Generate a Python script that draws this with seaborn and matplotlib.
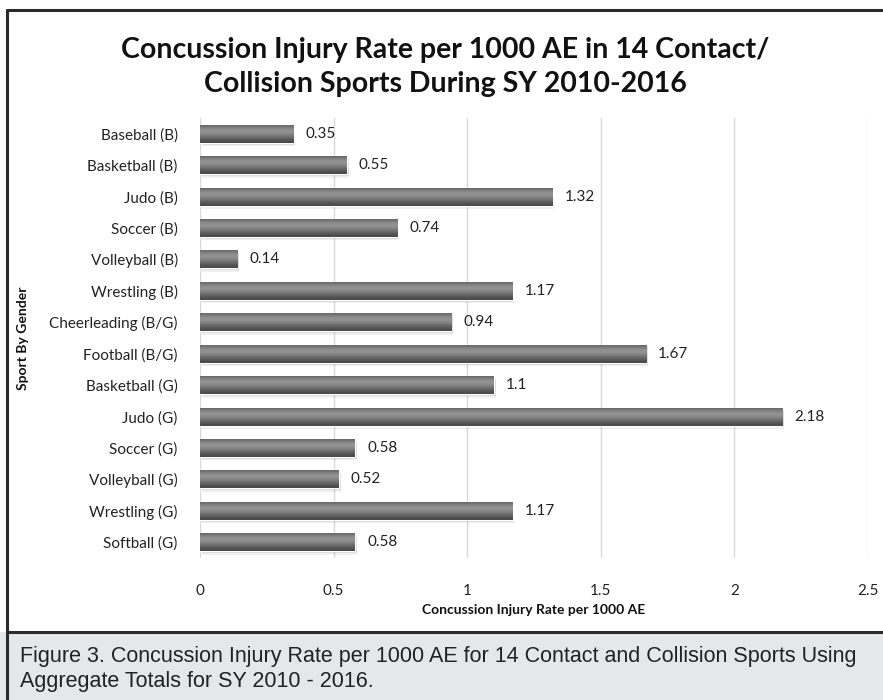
import numpy as np
import pandas as pd
import matplotlib
matplotlib.use("Agg")
import matplotlib.pyplot as plt
import seaborn as sns
from matplotlib.patches import Rectangle

sports = ["Baseball (B)", "Basketball (B)", "Judo (B)", "Soccer (B)", "Volleyball (B)",
          "Wrestling (B)", "Cheerleading (B/G)", "Football (B/G)", "Basketball (G)",
          "Judo (G)", "Soccer (G)", "Volleyball (G)", "Wrestling (G)", "Softball (G)"]
rates = [0.35, 0.55, 1.32, 0.74, 0.14, 1.17, 0.94, 1.67, 1.1, 2.18, 0.58, 0.52, 1.17, 0.58]
x_ticks = [0, 0.5, 1, 1.5, 2, 2.5]
x_tick_labels = ["0", "0.5", "1", "1.5", "2", "2.5"]

title = "Concussion Injury Rate per 1000 AE in 14 Contact/\nCollision Sports During SY 2010-2016"
xlabel = "Concussion Injury Rate per 1000 AE"
ylabel = "Sport By Gender"
caption = ("Figure 3. Concussion Injury Rate per 1000 AE for 14 Contact and Collision Sports Using\n"
           "Aggregate Totals for SY 2010 - 2016.")

sns.set_theme(style="white")
plt.rcParams['font.family'] = ['Lato', 'DejaVu Sans']

W, H = 883, 700
fig = plt.figure(figsize=(W / 100, H / 100), dpi=100)
fig.patch.set_facecolor("white")

# caption background
fig.patches.append(Rectangle((0, 0), 1, 1 - 632 / H, transform=fig.transFigure,
                             facecolor="#e6e7e8", edgecolor="none", zorder=0))
# border lines
fig.add_artist(plt.Line2D([7 / W, 7 / W], [0, 1 - 10 / H], transform=fig.transFigure,
                          color="#2b2b2b", lw=2.2))
fig.add_artist(plt.Line2D([7 / W, 1], [1 - 10 / H, 1 - 10 / H], transform=fig.transFigure,
                          color="#2b2b2b", lw=2.2))
fig.add_artist(plt.Line2D([7 / W, 1], [1 - 632 / H, 1 - 632 / H], transform=fig.transFigure,
                          color="#2b2b2b", lw=2.2))

left, right, top, bottom = 200, 868, 118, 558
ax = fig.add_axes([left / W, 1 - bottom / H, (right - left) / W, (bottom - top) / H])

df = pd.DataFrame({"sport": sports, "rate": rates})
sns.barplot(data=df, x="rate", y="sport", orient="h", color="#636363", width=0.57,
            ax=ax, zorder=3)

ax.set_xlim(0, 2.5)
ax.set_ylim(len(sports) - 0.5, -0.5)
ax.set_xticks(x_ticks)
ax.set_xticklabels(x_tick_labels, fontsize=11, color="#222222")
ax.tick_params(axis="x", length=0, pad=19)
ax.tick_params(axis="y", length=0, pad=16, labelsize=11, labelcolor="#222222")
for s in ax.spines.values():
    s.set_visible(False)
ax.xaxis.grid(True, color="#d9d9d9", lw=1, zorder=0)
ax.set_axisbelow(True)

# gradient shading (cylinder look) clipped to each bar
grad = np.array([0.42, 0.50, 0.56, 0.58, 0.55, 0.50, 0.44, 0.38, 0.33, 0.29]).reshape(-1, 1)
for p in ax.patches:
    x0, y0 = p.get_x(), p.get_y()
    w, h = p.get_width(), p.get_height()
    # soft shadow
    for k, a in [(0.06, 0.10), (0.11, 0.06)]:
        sh = Rectangle((x0 + 0.006, y0 + k), w, h, facecolor="#000000", alpha=a,
                       edgecolor="none", zorder=2)
        ax.add_patch(sh)
    im = ax.imshow(grad, cmap="gray", vmin=0, vmax=1, aspect="auto",
                   extent=(x0, x0 + w, y0 + h, y0), zorder=4, interpolation="bicubic")
    im.set_clip_path(p)
    ax.text(x0 + w + 0.045, y0 + h / 2, f"{w:g}", va="center", ha="left",
            fontsize=11, color="#222222", zorder=5)
ax.set_ylim(len(sports) - 0.5, -0.5)
ax.set_xlim(0, 2.5)

ax.set_xlabel(xlabel, fontsize=10, fontweight="bold", color="#111111", labelpad=4)
ax.set_ylabel(ylabel, fontsize=10, fontweight="bold", color="#111111")
ax.yaxis.set_label_coords((29 - left) / (right - left), 0.5)

fig.text(445 / W, 1 - 67 / H, title, ha="center", va="center",
         fontsize=20.5, fontweight="bold", color="#111111", linespacing=1.4)

fig.text(20 / W, 1 - 669 / H, caption, ha="left", va="center", fontsize=15.5,
         family=["Liberation Sans", "DejaVu Sans"],
         color="#222222", linespacing=1.2)

fig.savefig("out.png", dpi=100, facecolor=fig.get_facecolor())
